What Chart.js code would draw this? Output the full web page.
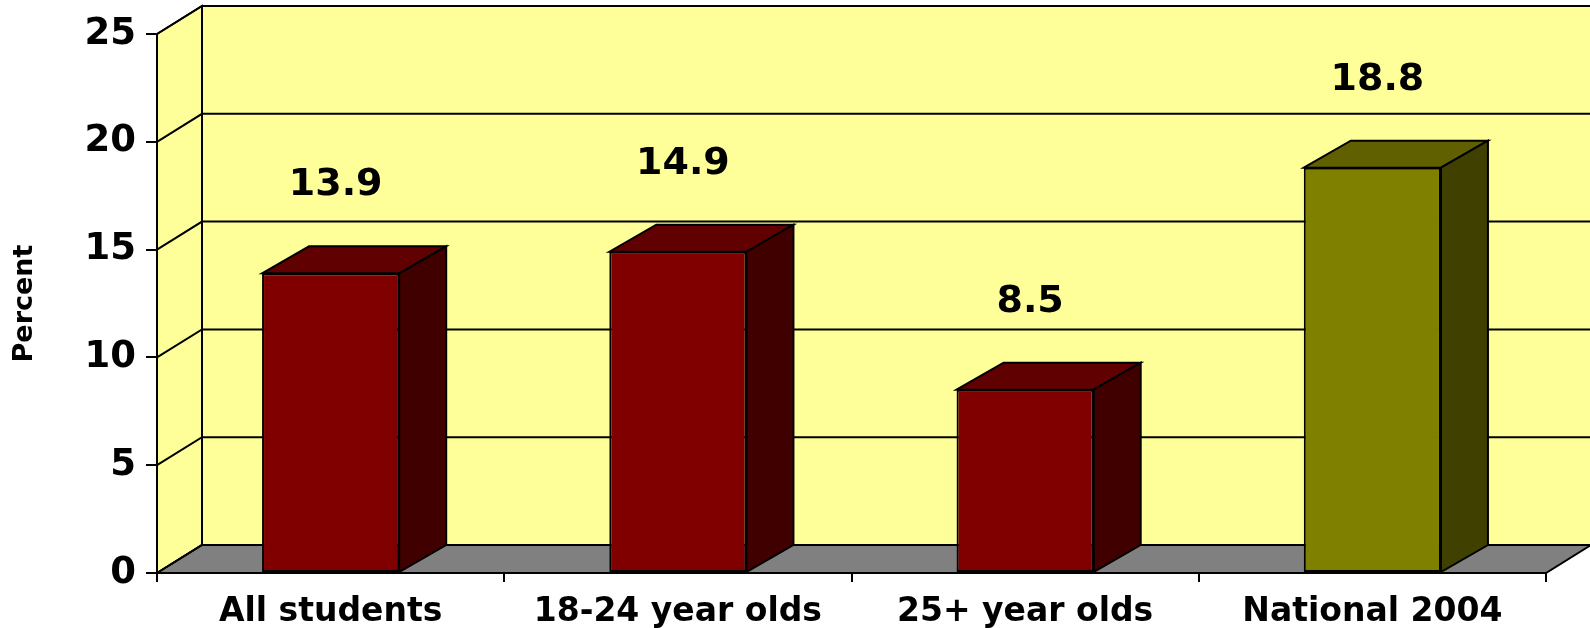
<!DOCTYPE html>
<html><head><meta charset="utf-8">
<script src="https://cdn.jsdelivr.net/npm/chart.js@4/dist/chart.umd.min.js"></script>
<style>html,body{margin:0;padding:0;background:#fff}#wrap{width:1590px;height:628px}</style>
</head><body><div id="wrap"><canvas id="c" width="1590" height="628"></canvas></div>
<script>
const categories = ['All students', '18-24 year olds', '25+ year olds', 'National 2004'];
const percentValues = [13.9, 14.9, 8.5, 18.8];
const yAxisMin = 0, yAxisMax = 25, yAxisStep = 5;
const frontColors = ['#800000', '#800000', '#800000', '#808000'];
const topColors = ['#600000', '#600000', '#600000', '#606000'];
const sideColors = ['#400000', '#400000', '#400000', '#404000'];

const FONT = '"DejaVu Sans", "Liberation Sans", sans-serif';
const WALL = {dx: 45, dy: -28};
const BAR = {dx: 47, dy: -27};

function poly(ctx, pts, fill) {
  ctx.beginPath();
  ctx.moveTo(pts[0][0], pts[0][1]);
  for (let i = 1; i < pts.length; i++) ctx.lineTo(pts[i][0], pts[i][1]);
  ctx.closePath();
  if (fill) { ctx.fillStyle = fill; ctx.fill(); }
  ctx.stroke();
}

const box3d = {
  id: 'box3d',
  beforeDatasetsDraw(chart) {
    const {ctx, chartArea: {left, right, top, bottom}, scales: {y}} = chart;
    const dx = WALL.dx, dy = WALL.dy;
    ctx.save();
    ctx.lineWidth = 2;
    ctx.strokeStyle = '#000';
    ctx.lineJoin = 'miter';
    ctx.fillStyle = '#FFFF99';
    ctx.fillRect(left + dx, top + dy, right - left, bottom - top);
    poly(ctx, [[left, top], [left + dx, top + dy], [left + dx, bottom + dy], [left, bottom]], '#FFFF99');
    poly(ctx, [[left, bottom], [left + dx, bottom + dy], [right + dx, bottom + dy], [right, bottom]], '#808080');
    ctx.beginPath();
    y.ticks.forEach(t => {
      const py = y.getPixelForValue(t.value);
      ctx.moveTo(left, py);
      ctx.lineTo(left + dx, py + dy);
      ctx.lineTo(right + dx, py + dy);
    });
    ctx.moveTo(left + dx, top + dy);
    ctx.lineTo(left + dx, bottom + dy);
    ctx.stroke();
    const meta = chart.getDatasetMeta(0);
    meta.data.forEach((bar, i) => {
      const p = bar.getProps(['x', 'y', 'width', 'base'], true);
      const l = p.x - p.width / 2, r = p.x + p.width / 2;
      poly(ctx, [[l, p.y], [l + BAR.dx, p.y + BAR.dy], [r + BAR.dx, p.y + BAR.dy], [r, p.y]], topColors[i]);
      poly(ctx, [[r, p.y], [r + BAR.dx, p.y + BAR.dy], [r + BAR.dx, p.base + BAR.dy], [r, p.base]], sideColors[i]);
    });
    ctx.restore();
  },
  afterDatasetsDraw(chart) {
    const {ctx, scales: {y}} = chart;
    const meta = chart.getDatasetMeta(0);
    ctx.save();
    ctx.font = 'bold 38px ' + FONT;
    ctx.fillStyle = '#000';
    ctx.textAlign = 'center';
    ctx.textBaseline = 'alphabetic';
    meta.data.forEach((bar, i) => {
      const v = percentValues[i];
      const py = y.getPixelForValue(v) - 92 + 14;
      ctx.fillText(v.toFixed(1), bar.x + 5, py);
    });
    ctx.restore();
  }
};

new Chart(document.getElementById('c'), {
  type: 'bar',
  data: {
    labels: categories,
    datasets: [{
      data: percentValues,
      backgroundColor: frontColors,
      borderColor: '#000',
      borderWidth: 2,
      borderSkipped: false,
      barPercentage: 0.395,
      categoryPercentage: 1.0
    }]
  },
  options: {
    responsive: false,
    animation: false,
    devicePixelRatio: 1,
    layout: {padding: {top: 34, right: 44, left: 0, bottom: 0}},
    plugins: {legend: {display: false}, tooltip: {enabled: false}},
    scales: {
      x: {
        offset: true,
        grid: {drawOnChartArea: false, drawTicks: true, tickLength: 9, color: '#000', lineWidth: 2, offset: true},
        border: {display: true, color: '#000', width: 2},
        ticks: {color: '#000', font: {family: FONT, size: 33, weight: 'bold'}, padding: 11, maxRotation: 0, autoSkip: false},
        afterFit(scale) { scale.height = 55; }
      },
      y: {
        min: yAxisMin, max: yAxisMax,
        grid: {drawOnChartArea: false, drawTicks: true, tickLength: 11, color: '#000', lineWidth: 2},
        border: {display: true, color: '#000', width: 2},
        ticks: {stepSize: yAxisStep, color: '#000', font: {family: FONT, size: 37, weight: 'bold'}, padding: 10},
        title: {display: true, text: 'Percent', color: '#000', font: {family: FONT, size: 27, weight: 'bold'}, padding: {top: 9, bottom: 0}},
        afterFit(scale) { scale.width = 157; }
      }
    }
  },
  plugins: [box3d]
});
</script>
</body></html>
